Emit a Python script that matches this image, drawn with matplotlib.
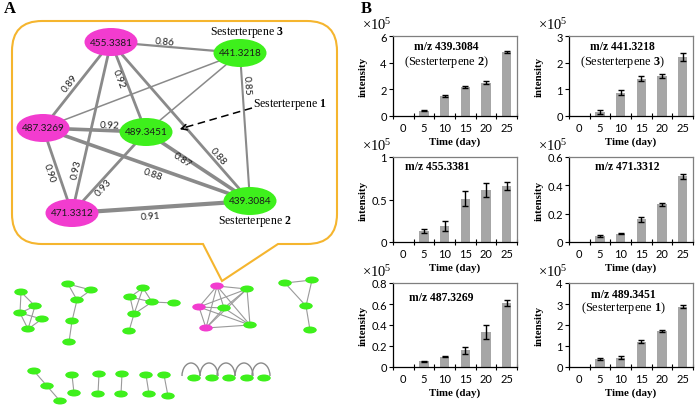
import matplotlib
matplotlib.use("Agg")
import matplotlib.pyplot as plt
from matplotlib.patches import Ellipse, PathPatch, Arc
from matplotlib.path import Path
import numpy as np

plt.rcParams['mathtext.fontset'] = 'custom'
plt.rcParams['mathtext.rm'] = 'Liberation Serif'
plt.rcParams['mathtext.bf'] = 'Liberation Serif:bold'
plt.rcParams['mathtext.it'] = 'Liberation Serif:italic'

# ---------------- data: panel B ----------------
days = ["0", "5", "10", "15", "20", "25"]

mz_439 = [0, 0.40, 1.50, 2.15, 2.50, 4.80]
err_439 = [0, 0.03, 0.04, 0.07, 0.09, 0.10]
mz_441 = [0, 0.15, 0.88, 1.40, 1.50, 2.20]
err_441 = [0, 0.06, 0.10, 0.10, 0.08, 0.15]
mz_455 = [0, 0.13, 0.19, 0.51, 0.61, 0.66]
err_455 = [0, 0.02, 0.06, 0.09, 0.08, 0.05]
mz_471 = [0, 0.040, 0.060, 0.160, 0.265, 0.465]
err_471 = [0, 0.008, 0.005, 0.020, 0.012, 0.018]
mz_487 = [0, 0.055, 0.100, 0.160, 0.330, 0.610]
err_487 = [0, 0.004, 0.004, 0.035, 0.068, 0.025]
mz_489 = [0, 0.37, 0.45, 1.20, 1.72, 2.88]
err_489 = [0, 0.04, 0.06, 0.07, 0.04, 0.08]

titles = ["m/z 439.3084", "m/z 441.3218", "m/z 455.3381",
          "m/z 471.3312", "m/z 487.3269", "m/z 489.3451"]
subtitles = ["(Sesterterpene $\\mathbf{2}$)", "(Sesterterpene $\\mathbf{3}$)", None,
             None, None, "(Sesterterpene $\\mathbf{1}$)"]
yticks_439 = ["0", "2", "4", "6"]
yticks_441 = ["0", "1", "2", "3"]
yticks_455 = ["0", "0.5", "1"]
yticks_471 = ["0", "0.2", "0.4", "0.6"]
yticks_487 = ["0", "0.2", "0.4", "0.6", "0.8"]
yticks_489 = ["0", "1", "2", "3", "4"]

# ---------------- data: panel A network ----------------
main_nodes = ["455.3381", "441.3218", "487.3269", "489.3451", "471.3312", "439.3084"]
main_types = ["pink", "green", "pink", "green", "pink", "green"]
main_edges = [("455.3381", "441.3218", "0.86"), ("455.3381", "487.3269", "0.89"),
              ("455.3381", "489.3451", "0.92"), ("455.3381", "471.3312", "0.93"),
              ("455.3381", "439.3084", "0.88"), ("441.3218", "487.3269", None),
              ("441.3218", "489.3451", None), ("441.3218", "439.3084", "0.85"),
              ("487.3269", "489.3451", "0.92"), ("487.3269", "471.3312", "0.90"),
              ("487.3269", "439.3084", "0.88"), ("489.3451", "471.3312", "0.93"),
              ("489.3451", "439.3084", "0.87"), ("471.3312", "439.3084", "0.91")]

# ---------------- layout (pixel coordinates, y downward) ----------------
W, H = 696, 406
PINK = "#f23ccf"
GREEN = "#3ef01c"
EDGE = "#8a8a8a"

node_pos = {"455.3381": (111, 43), "441.3218": (240, 54), "487.3269": (43, 129),
            "489.3451": (146, 133), "471.3312": (72, 214), "439.3084": (250, 202)}
edge_lw = [1.6, 2.0, 2.0, 2.0, 2.0, 1.1, 1.1, 1.5, 2.6, 2.0, 2.6, 2.0, 2.6, 3.0]
label_pos = [(165, 42), (70, 84), (119, 79), (76, 170), (218, 157), None, None,
             (247, 86), (110, 126), (49, 173), (153, 175), (104, 188), (182, 160), (150, 217)]

small_nodes = {
    "a1": (21, 293), "a2": (35, 307), "a3": (20, 314), "a4": (42, 320), "a5": (28, 330),
    "b1": (68, 285), "b2": (91, 291), "b3": (77, 301), "b4": (72, 322), "b5": (69, 343),
    "c1": (143, 289), "c2": (130, 298), "c3": (152, 303), "c4": (174, 304), "c5": (134, 315), "c6": (129, 332),
    "d1": (217, 287), "d2": (199, 308), "d3": (206, 329), "d4": (247, 290), "d5": (224, 309), "d6": (250, 326),
    "e1": (285, 284), "e2": (312, 281), "e3": (306, 307), "e4": (310, 331),
    "f1": (34, 372), "f2": (47, 387), "f3": (60, 402),
    "g1": (72, 376), "g2": (74, 394), "h1": (99, 375), "h2": (98, 395),
    "i1": (122, 375), "i2": (121, 395), "j1": (146, 376), "j2": (149, 395),
    "k1": (164, 376), "k2": (168, 397),
    "l1": (194, 379), "l2": (212, 379), "l3": (229, 379), "l4": (247, 379), "l5": (264, 379),
}
small_pink = ["d1", "d2", "d3"]
small_edges = [("a1", "a2"), ("a1", "a3"), ("a2", "a3"), ("a3", "a4"), ("a2", "a5"), ("a3", "a5"), ("a4", "a5"),
               ("b1", "b2"), ("b1", "b3"), ("b2", "b3"), ("b3", "b4"), ("b4", "b5"),
               ("c1", "c2"), ("c1", "c3"), ("c1", "c5"), ("c2", "c3"), ("c2", "c5"), ("c3", "c5"),
               ("c3", "c4"), ("c5", "c6"),
               ("e1", "e2"), ("e1", "e3"), ("e2", "e3"), ("e3", "e4"),
               ("f1", "f2"), ("f2", "f3"), ("g1", "g2"), ("h1", "h2"), ("i1", "i2"),
               ("j1", "j2"), ("k1", "k2")]
d_nodes = ["d1", "d2", "d3", "d4", "d5", "d6"]
for i in range(len(d_nodes)):
    for j in range(i + 1, len(d_nodes)):
        small_edges.append((d_nodes[i], d_nodes[j]))
self_loops = ["l1", "l2", "l3", "l4", "l5"]

fig = plt.figure(figsize=(W / 100, H / 100), dpi=100)
axA = fig.add_axes([0, 0, 1, 1])
axA.set_xlim(0, W)
axA.set_ylim(H, 0)
axA.axis("off")

# speech bubble
x0, x1, y0, y1, r = 12, 337, 22, 245, 30
verts = [(x0 + r, y0), (x1 - r, y0), (x1, y0), (x1, y0 + r), (x1, y1 - r), (x1, y1), (x1 - r, y1),
         (278, y1), (222, 282), (203, y1), (x0 + r, y1), (x0, y1), (x0, y1 - r), (x0, y0 + r),
         (x0, y0), (x0 + r, y0), (x0 + r, y0)]
codes = [Path.MOVETO, Path.LINETO, Path.CURVE3, Path.CURVE3, Path.LINETO, Path.CURVE3, Path.CURVE3,
         Path.LINETO, Path.LINETO, Path.LINETO, Path.LINETO, Path.CURVE3, Path.CURVE3, Path.LINETO,
         Path.CURVE3, Path.CURVE3, Path.CLOSEPOLY]
axA.add_patch(PathPatch(Path(verts, codes), facecolor="white", edgecolor="#f5b52e", lw=1.5, zorder=3))

# main network
for (a, b, lab), lw, lp in zip(main_edges, edge_lw, label_pos):
    (xa, ya), (xb, yb) = node_pos[a], node_pos[b]
    axA.plot([xa, xb], [ya, yb], color=EDGE, lw=lw, zorder=4, solid_capstyle="butt")
    if lab is not None:
        dx, dy = xb - xa, -(yb - ya)
        ang = np.degrees(np.arctan2(dy, dx))
        if ang > 90:
            ang -= 180
        if ang < -90:
            ang += 180
        axA.text(lp[0], lp[1], lab, rotation=ang, rotation_mode="anchor", ha="center", va="center",
                 fontsize=7.2, family="Lato", color="#222222", zorder=5)
for name, t in zip(main_nodes, main_types):
    x, y = node_pos[name]
    axA.add_patch(Ellipse((x, y), 53, 28, facecolor=PINK if t == "pink" else GREEN, edgecolor="none", zorder=6))
    axA.text(x, y, name, ha="center", va="center", fontsize=7.2, family="Lato", color="#1a1a1a", zorder=7)

serif = "Liberation Serif"
axA.text(247, 32, "Sesterterpene $\\mathbf{3}$", ha="center", va="center", fontsize=8.5, family=serif, zorder=7)
axA.text(290, 105, "Sesterterpene $\\mathbf{1}$", ha="center", va="center", fontsize=8.5, family=serif, zorder=7)
axA.text(255, 222, "Sesterterpene $\\mathbf{2}$", ha="center", va="center", fontsize=8.5, family=serif, zorder=7)
axA.plot([252, 183], [109, 129], color="k", lw=1.1, ls=(0, (5, 3)), zorder=7)
axA.annotate("", xy=(177, 131), xytext=(186, 128.4),
             arrowprops=dict(arrowstyle="->", color="k", lw=1.1, mutation_scale=10), zorder=7)

# small networks
for a, b in small_edges:
    (xa, ya), (xb, yb) = small_nodes[a], small_nodes[b]
    axA.plot([xa, xb], [ya, yb], color="#9a9a9a", lw=0.8, zorder=1)
for n in self_loops:
    x, y = small_nodes[n]
    axA.add_patch(Arc((x - 3, y - 2), 18, 26, theta1=180, theta2=360, color="#8a8a8a", lw=1.0, zorder=1))
for n, (x, y) in small_nodes.items():
    axA.add_patch(Ellipse((x, y), 13.5, 7, facecolor=PINK if n in small_pink else GREEN,
                          edgecolor="none", zorder=2))

axA.text(4, 9, "A", fontsize=12, fontweight="bold", family=serif, va="center", ha="left")
axA.text(361, 9, "B", fontsize=12, fontweight="bold", family=serif, va="center", ha="left")

# ---------------- panel B ----------------
series = [mz_439, mz_441, mz_455, mz_471, mz_487, mz_489]
errors = [err_439, err_441, err_455, err_471, err_487, err_489]
ytick_sets = [yticks_439, yticks_441, yticks_455, yticks_471, yticks_487, yticks_489]
# layout: (left, top, right, bottom) px, title x, title y, subtitle y (axes fraction)
boxes = [(393, 37, 517, 117), (569, 37, 693, 117),
         (393, 158, 517, 243), (569, 158, 693, 243),
         (393, 284, 517, 368), (569, 284, 693, 368)]
title_xy = [(0.43, 0.875, 0.69), (0.43, 0.875, 0.69), (0.36, 0.89, None),
            (0.47, 0.89, None), (0.39, 0.83, None), (0.435, 0.875, 0.71)]

for k in range(6):
    l, t, rr, b = boxes[k]
    ax = fig.add_axes([l / W, 1 - b / H, (rr - l) / W, (b - t) / H])
    x = np.arange(len(days))
    vals = np.array(series[k])
    errs = np.array(errors[k])
    ax.bar(x, vals, width=0.45, color="#a6a6a6", zorder=2)
    m = errs > 0
    ax.errorbar(x[m], vals[m], yerr=errs[m], fmt="none", ecolor="k", elinewidth=1.0,
                capsize=2, capthick=1.0, zorder=3)
    labs = ytick_sets[k]
    tv = [float(s) for s in labs]
    ax.set_ylim(0, tv[-1])
    ax.set_yticks(tv)
    ax.set_yticklabels(labs, family="Lato", fontsize=8)
    ax.set_xlim(-0.5, 5.5)
    ax.set_xticks(x)
    ax.set_xticklabels(days, family="Lato", fontsize=8)
    ax.set_xticks(np.arange(-0.5, 6.0, 1.0), minor=True)
    ax.tick_params(axis="x", which="major", length=0, pad=4.5)
    ax.tick_params(axis="x", which="minor", length=5, direction="inout", width=0.8)
    ax.tick_params(axis="y", length=3, width=0.8, pad=1.5)
    for s in ["left", "bottom"]:
        ax.spines[s].set_color("k")
        ax.spines[s].set_linewidth(0.9)
    for s in ["top", "right"]:
        ax.spines[s].set_color("#7f7f7f")
        ax.spines[s].set_linewidth(0.9)
    tx, ty, sy = title_xy[k]
    ax.text(tx, ty, titles[k], transform=ax.transAxes, ha="center", va="center",
            fontsize=8.4, fontweight="bold", family=serif)
    if subtitles[k] is not None:
        ax.text(tx, sy, subtitles[k], transform=ax.transAxes, ha="center", va="center",
                fontsize=8.8, family=serif)
    hpx = b - t
    wpx = rr - l
    ax.text(-30 / wpx, 0.5, "intensity", transform=ax.transAxes, rotation=90, ha="center",
            va="center", fontsize=7.8, fontweight="bold", family=serif)
    ax.text(0.5, -25 / hpx, "Time (day)", transform=ax.transAxes, ha="center", va="center",
            fontsize=7.8, fontweight="bold", family=serif)
    ax.text(-31 / wpx, 1 + 12 / hpx, "×10$^5$", transform=ax.transAxes, ha="left", va="center",
            fontsize=10.5, family=serif)

fig.savefig("out.png", dpi=100)
